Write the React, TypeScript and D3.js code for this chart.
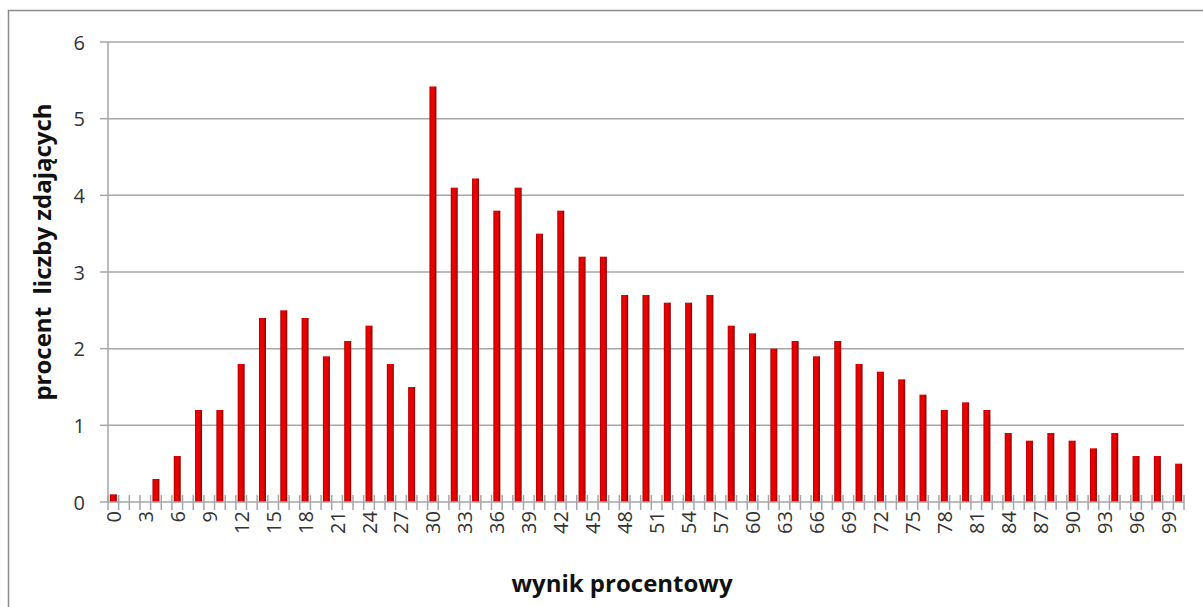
import React from "react";
import * as d3 from "d3";

const scores: number[] = d3.range(0, 101);
const evenScores: number[] = [0,2,4,6,8,10,12,14,16,18,20,22,24,26,28,30,32,34,36,38,40,42,44,46,48,50,52,54,56,58,60,62,64,66,68,70,72,74,76,78,80,82,84,86,88,90,92,94,96,98,100];
const percents: number[] = [0.1,0,0.3,0.6,1.2,1.2,1.8,2.4,2.5,2.4,1.9,2.1,2.3,1.8,1.5,5.42,4.1,4.22,3.8,4.1,3.5,3.8,3.2,3.2,2.7,2.7,2.6,2.6,2.7,2.3,2.2,2.0,2.1,1.9,2.1,1.8,1.7,1.6,1.4,1.2,1.3,1.2,0.9,0.8,0.9,0.8,0.7,0.9,0.6,0.6,0.5];
const yTicks: number[] = [0,1,2,3,4,5,6];
const xLabelScores: number[] = d3.range(0, 100, 3);
const yTitle = "procent  liczby zdających";
const xTitle = "wynik procentowy";

const W = 1203, H = 607;
const left = 108, right = 1184, top = 42, bottom = 502;
const FONT = "'Open Sans', sans-serif";

export default function App() {
  const x = d3.scaleBand<number>().domain(scores).range([left, right]).paddingInner(0).paddingOuter(0);
  const y = d3.scaleLinear().domain([0, 6]).range([bottom, top]);
  const bw = x.bandwidth();
  const barW = 7;
  return (
    <svg width={W} height={H} style={{ position: "absolute", left: 0, top: 0, background: "#fff" }}>
      <defs>
        <linearGradient id="barGrad" x1="0" x2="1" y1="0" y2="0">
          <stop offset="0" stopColor="#a40000" />
          <stop offset="0.2" stopColor="#e60000" />
          <stop offset="0.6" stopColor="#ee0000" />
          <stop offset="1" stopColor="#8a0000" />
        </linearGradient>
      </defs>
      <rect x={8.5} y={10.5} width={W} height={H} fill="#fff" stroke="#8c8c8c" strokeWidth={1.5} />
      {yTicks.map((t) => (
        <g key={"y" + t}>
          {t > 0 && <line x1={left} x2={right} y1={y(t)} y2={y(t)} stroke="#a6a6a6" strokeWidth={1.5} />}
          <line x1={left - 8} x2={left} y1={y(t)} y2={y(t)} stroke="#a6a6a6" strokeWidth={1.5} />
          <text x={85} y={y(t)} textAnchor="end" dominantBaseline="central" fontFamily={FONT} fontSize={20} fill="#333">{t}</text>
        </g>
      ))}
      {evenScores.map((s, i) => {
        const v = percents[i];
        if (v <= 0) return null;
        const cx = (x(s) as number) + bw / 2;
        return <rect key={"b" + s} x={cx - barW / 2} y={y(v)} width={barW} height={y(0) - y(v)} fill="url(#barGrad)" />;
      })}
      <line x1={left} x2={left} y1={top} y2={bottom} stroke="#a6a6a6" strokeWidth={1.5} />
      <line x1={left} x2={right} y1={bottom} y2={bottom} stroke="#a6a6a6" strokeWidth={1.5} />
      {scores.concat([101]).map((s) => {
        const xx = s === 101 ? right : (x(s) as number);
        return <line key={"t" + s} x1={xx} x2={xx} y1={bottom - 7} y2={bottom + 8} stroke="#a6a6a6" strokeWidth={1.5} />;
      })}
      {xLabelScores.map((s) => {
        const cx = (x(s) as number) + bw / 2;
        return (
          <text key={"xl" + s} transform={`translate(${cx},${bottom + 9}) rotate(-90)`} textAnchor="end" dominantBaseline="central" fontFamily={FONT} fontSize={20} fill="#333">{s}</text>
        );
      })}
      <text transform={`translate(41,${252}) rotate(-90)`} textAnchor="middle" dominantBaseline="central" fontFamily={FONT} fontSize={24} fontWeight="bold" fill="#111" style={{ whiteSpace: "pre" }}>{yTitle}</text>
      <text x={622} y={582} textAnchor="middle" dominantBaseline="central" fontFamily={FONT} fontSize={24} fontWeight="bold" fill="#111">{xTitle}</text>
    </svg>
  );
}
